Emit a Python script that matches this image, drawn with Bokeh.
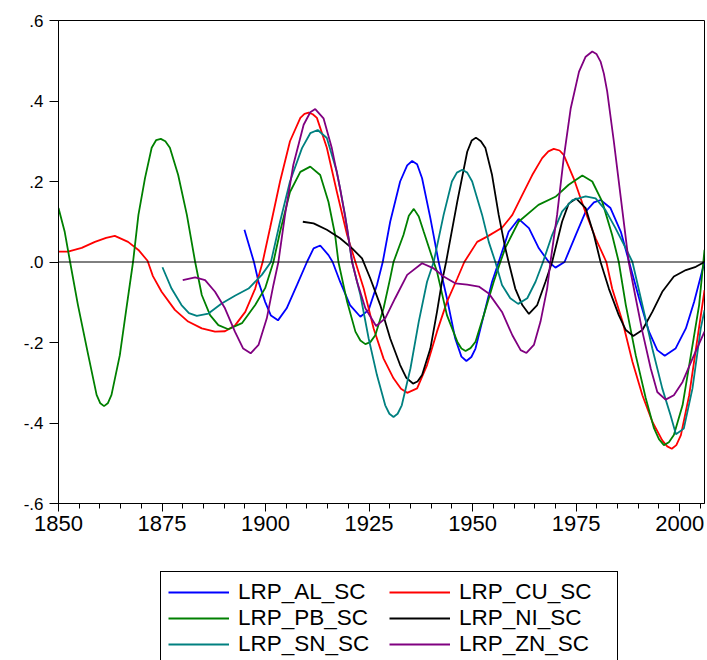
from bokeh.plotting import figure
from bokeh.layouts import column
from bokeh.models import Range1d, FixedTicker, Span, Legend, LegendItem
from bokeh.embed import file_html
from bokeh.resources import INLINE

FONT = "Liberation Sans"

# ---- data ----
al_years = [1894.9, 1897.2, 1898.3, 1899.9, 1901.3, 1903.0, 1905.1, 1907.6, 1910.0, 1911.6, 1913.2,
            1915.2, 1916.2, 1918.0, 1920.4, 1922.9, 1924.9, 1926.9, 1928.3, 1930.1, 1932.5, 1934.2,
            1935.4, 1936.6, 1937.8, 1939.8, 1941.8, 1943.8, 1945.8, 1947.3, 1948.5, 1949.7, 1950.7,
            1952.7, 1954.7, 1956.3, 1958.7, 1961.1, 1963.6, 1966.0, 1968.4, 1970.0, 1972.2, 1974.9,
            1977.3, 1979.3, 1980.9, 1983.3, 1985.8, 1987.8, 1990.2, 1992.6, 1994.6, 1996.4, 1999.0,
            2001.5, 2003.5, 2006.0]
al_vals = [0.080, 0.000, -0.049, -0.099, -0.133, -0.145, -0.115, -0.057, 0.000, 0.034, 0.041,
           0.017, 0.000, -0.049, -0.107, -0.136, -0.119, -0.057, 0.000, 0.100, 0.200, 0.240,
           0.251, 0.243, 0.208, 0.109, 0.000, -0.090, -0.190, -0.235, -0.246, -0.236, -0.215,
           -0.132, -0.049, 0.000, 0.075, 0.107, 0.084, 0.034, 0.000, -0.014, 0.000, 0.067,
           0.125, 0.148, 0.154, 0.134, 0.075, 0.000, -0.090, -0.173, -0.219, -0.233, -0.215,
           -0.165, -0.099, 0.000]

cu_years = [1850.0, 1852.3, 1855.6, 1858.8, 1861.5, 1863.6, 1866.8, 1869.3, 1871.5, 1872.8,
            1874.9, 1878.1, 1881.3, 1884.6, 1887.8, 1890.2, 1892.6, 1895.1, 1897.5, 1899.3,
            1901.1, 1903.5, 1905.9, 1908.4, 1909.4, 1910.4, 1911.4, 1912.4, 1914.8, 1917.2,
            1919.7, 1921.7, 1923.7, 1926.1, 1928.5, 1930.9, 1932.7, 1934.2, 1936.6, 1939.0,
            1941.4, 1943.8, 1946.3, 1948.0, 1951.1, 1953.5, 1957.1, 1959.6, 1962.0, 1964.4,
            1966.8, 1968.3, 1969.6, 1971.0, 1972.0, 1974.4, 1976.9, 1979.7, 1982.3, 1983.7,
            1986.2, 1988.6, 1991.0, 1993.4, 1995.8, 1997.0, 1998.1, 1999.2, 2000.3, 2002.3,
            2004.3, 2006.0]
cu_vals = [0.026, 0.026, 0.035, 0.050, 0.060, 0.065, 0.050, 0.030, 0.003, -0.035,
           -0.074, -0.119, -0.148, -0.165, -0.173, -0.172, -0.158, -0.124, -0.066, 0.000,
           0.085, 0.200, 0.300, 0.358, 0.368, 0.371, 0.367, 0.358, 0.284, 0.175,
           0.067, 0.000, -0.066, -0.165, -0.240, -0.289, -0.315, -0.325, -0.314, -0.256,
           -0.173, -0.099, -0.041, 0.000, 0.050, 0.063, 0.085, 0.117, 0.167, 0.216,
           0.258, 0.275, 0.281, 0.277, 0.266, 0.208, 0.134, 0.059, 0.000, -0.066,
           -0.148, -0.248, -0.331, -0.397, -0.443, -0.458, -0.464, -0.455, -0.430, -0.331,
           -0.190, -0.070]

pb_years = [1850.0, 1851.5, 1852.8, 1854.7, 1857.2, 1859.2, 1860.1, 1861.0, 1861.9, 1862.8,
            1864.8, 1866.4, 1868.0, 1869.3, 1870.9, 1872.5, 1873.6, 1874.7, 1875.8, 1876.9,
            1878.9, 1881.0, 1883.0, 1884.6, 1886.6, 1888.6, 1891.0, 1894.3, 1897.5, 1899.9,
            1901.9, 1903.5, 1905.9, 1908.4, 1910.8, 1913.2, 1915.2, 1916.8, 1917.6, 1919.7,
            1921.7, 1922.9, 1924.1, 1925.3, 1926.5, 1928.5, 1930.1, 1930.9, 1933.3, 1934.6,
            1935.8, 1937.0, 1938.2, 1940.6, 1941.4, 1943.8, 1946.3, 1947.3, 1948.3, 1949.5,
            1950.7, 1952.7, 1955.1, 1956.7, 1957.9, 1961.1, 1965.9, 1970.0, 1973.2, 1976.5,
            1978.9, 1981.3, 1983.7, 1985.3, 1987.0, 1989.4, 1991.8, 1993.8, 1995.0, 1996.2,
            1997.4, 1998.6, 2000.7, 2002.7, 2004.7, 2006.0]
pb_vals = [0.134, 0.075, 0.000, -0.107, -0.232, -0.330, -0.351, -0.358, -0.351, -0.330,
           -0.232, -0.115, 0.000, 0.117, 0.209, 0.284, 0.303, 0.306, 0.300, 0.284,
           0.216, 0.117, 0.000, -0.082, -0.132, -0.157, -0.167, -0.152, -0.107, -0.065,
           0.000, 0.075, 0.174, 0.224, 0.237, 0.216, 0.149, 0.067, 0.000, -0.099,
           -0.173, -0.195, -0.204, -0.199, -0.182, -0.115, -0.040, 0.000, 0.067, 0.115,
           0.132, 0.113, 0.075, 0.000, -0.024, -0.132, -0.198, -0.215, -0.221, -0.214,
           -0.198, -0.132, -0.049, 0.000, 0.035, 0.100, 0.142, 0.162, 0.192, 0.215,
           0.200, 0.150, 0.067, 0.000, -0.107, -0.232, -0.338, -0.413, -0.440, -0.455,
           -0.448, -0.430, -0.356, -0.232, -0.107, 0.030]

ni_years = [1909.0, 1911.6, 1914.8, 1918.0, 1920.9, 1923.3, 1925.3, 1927.7, 1930.1, 1932.5,
            1934.0, 1935.6, 1936.7, 1937.8, 1939.8, 1941.4, 1942.6, 1943.6, 1946.3, 1948.7,
            1949.8, 1950.8, 1952.0, 1953.1, 1954.7, 1956.3, 1957.9, 1958.7, 1960.3, 1962.0,
            1963.6, 1965.6, 1967.6, 1969.2, 1971.6, 1973.2, 1975.0, 1977.3, 1979.3, 1980.9,
            1982.9, 1985.3, 1987.0, 1988.8, 1991.0, 1993.4, 1995.8, 1998.6, 2001.5, 2003.9,
            2006.0]
ni_vals = [0.100, 0.096, 0.080, 0.059, 0.034, 0.009, -0.041, -0.107, -0.190, -0.256,
           -0.288, -0.302, -0.297, -0.281, -0.215, -0.124, -0.049, 0.000, 0.150, 0.274,
           0.302, 0.309, 0.300, 0.283, 0.216, 0.117, 0.034, 0.000, -0.066, -0.107,
           -0.129, -0.107, -0.049, 0.000, 0.100, 0.145, 0.158, 0.134, 0.067, 0.000,
           -0.066, -0.132, -0.169, -0.184, -0.169, -0.124, -0.074, -0.036, -0.020, -0.012,
           0.000]

sn_years = [1875.1, 1877.3, 1879.7, 1881.5, 1883.4, 1886.2, 1889.4, 1892.6, 1895.9, 1899.1,
            1901.3, 1903.5, 1905.9, 1908.8, 1910.8, 1912.6, 1914.8, 1917.2, 1919.2, 1920.9,
            1922.9, 1924.9, 1926.9, 1928.9, 1929.9, 1930.9, 1931.9, 1932.9, 1935.0, 1937.0,
            1939.0, 1940.6, 1943.0, 1945.0, 1946.2, 1947.5, 1948.7, 1949.9, 1952.3, 1953.9,
            1955.5, 1957.1, 1959.1, 1961.0, 1963.2, 1965.2, 1967.0, 1969.2, 1971.6, 1974.1,
            1977.3, 1979.7, 1982.1, 1984.5, 1987.0, 1988.6, 1991.0, 1993.4, 1995.8, 1997.8,
            1999.1, 2001.0, 2003.1, 2005.1, 2006.0]
sn_vals = [-0.013, -0.066, -0.107, -0.127, -0.134, -0.128, -0.103, -0.084, -0.066, -0.032,
           0.000, 0.100, 0.200, 0.283, 0.320, 0.328, 0.308, 0.225, 0.117, 0.000,
           -0.082, -0.190, -0.281, -0.356, -0.377, -0.385, -0.377, -0.356, -0.264, -0.148,
           -0.049, 0.000, 0.117, 0.200, 0.222, 0.229, 0.222, 0.200, 0.117, 0.050,
           0.000, -0.057, -0.090, -0.104, -0.090, -0.049, 0.000, 0.067, 0.125, 0.154,
           0.163, 0.158, 0.129, 0.084, 0.034, 0.000, -0.107, -0.215, -0.314, -0.381,
           -0.428, -0.414, -0.314, -0.165, -0.120]

zn_years = [1880.0, 1883.0, 1885.4, 1887.8, 1890.2, 1892.6, 1894.6, 1896.4, 1898.3, 1900.3,
            1901.9, 1903.1, 1904.7, 1906.7, 1909.2, 1910.8, 1912.0, 1914.0, 1916.0, 1918.0,
            1919.7, 1920.9, 1922.1, 1924.1, 1926.7, 1928.9, 1931.3, 1934.2, 1937.8, 1940.6,
            1943.0, 1945.8, 1948.7, 1951.5, 1953.9, 1957.1, 1959.6, 1961.6, 1963.0, 1964.8,
            1966.4, 1968.0, 1968.8, 1970.4, 1972.0, 1973.7, 1975.7, 1977.3, 1978.9, 1979.9,
            1980.9, 1981.7, 1982.5, 1984.1, 1985.7, 1986.9, 1987.7, 1989.4, 1991.0, 1993.0,
            1994.6, 1996.6, 1998.6, 2000.7, 2003.1, 2006.0]
zn_vals = [-0.045, -0.038, -0.045, -0.074, -0.115, -0.173, -0.215, -0.227, -0.206, -0.140,
           -0.057, 0.000, 0.117, 0.241, 0.341, 0.372, 0.380, 0.357, 0.283, 0.183,
           0.084, 0.000, -0.049, -0.115, -0.159, -0.140, -0.090, -0.032, -0.003, -0.016,
           -0.036, -0.053, -0.056, -0.061, -0.078, -0.124, -0.182, -0.219, -0.226, -0.206,
           -0.148, -0.066, 0.000, 0.117, 0.258, 0.382, 0.473, 0.510, 0.523, 0.517,
           0.498, 0.468, 0.424, 0.300, 0.167, 0.067, 0.000, -0.090, -0.173, -0.264,
           -0.323, -0.342, -0.331, -0.298, -0.240, -0.173]

series_names = ["LRP_AL_SC", "LRP_CU_SC", "LRP_PB_SC", "LRP_NI_SC", "LRP_SN_SC", "LRP_ZN_SC"]
series_colors = ["#0000FF", "#FF0000", "#008000", "#000000", "#008080", "#800080"]

x_ticks = [1850, 1875, 1900, 1925, 1950, 1975, 2000]
x_tick_labels = ["1850", "1875", "1900", "1925", "1950", "1975", "2000"]
x_minor_ticks = [1850 + 5 * i for i in range(32)]
y_ticks = [-0.6, -0.4, -0.2, 0.0, 0.2, 0.4, 0.6]
y_tick_labels = ["-.6", "-.4", "-.2", ".0", ".2", ".4", ".6"]

data = [(al_years, al_vals), (cu_years, cu_vals), (pb_years, pb_vals),
        (ni_years, ni_vals), (sn_years, sn_vals), (zn_years, zn_vals)]

# ---- main chart ----
p = figure(width=707, height=560, output_backend="svg", toolbar_location=None,
           x_range=Range1d(1850, 2006), y_range=Range1d(-0.6, 0.6),
           min_border_left=58, min_border_right=3, min_border_top=20, min_border_bottom=57)
p.xgrid.visible = False
p.ygrid.visible = False
p.outline_line_color = "black"
p.outline_line_width = 1
p.background_fill_color = "white"
p.border_fill_color = "white"

p.add_layout(Span(location=0, dimension="width", line_color="black", line_width=1))

for (xs, ys), c in zip(data, series_colors):
    p.line(xs, ys, line_color=c, line_width=1.8)

xa = p.xaxis[0]
xa.ticker = FixedTicker(ticks=x_ticks, minor_ticks=x_minor_ticks)
xa.major_label_overrides = {t: l for t, l in zip(x_ticks, x_tick_labels)}
xa.axis_line_color = "black"
xa.major_tick_line_color = "black"
xa.minor_tick_line_color = "black"
xa.major_tick_out = 8
xa.major_tick_in = 0
xa.minor_tick_out = 5
xa.minor_tick_in = 0
xa.major_label_text_font = FONT
xa.major_label_text_font_size = "22px"
xa.major_label_text_color = "black"
xa.major_label_standoff = 4

ya = p.yaxis[0]
ya.ticker = FixedTicker(ticks=y_ticks, minor_ticks=[])
ya.major_label_overrides = {t: l for t, l in zip(y_ticks, y_tick_labels)}
ya.axis_line_color = "black"
ya.major_tick_line_color = "black"
ya.major_tick_out = 9
ya.major_tick_in = 0
ya.minor_tick_line_color = None
ya.major_label_text_font = FONT
ya.major_label_text_font_size = "17px"
ya.major_label_text_color = "black"
ya.major_label_standoff = 6

# ---- legend panel below the chart (its series lie outside its own view) ----
q = figure(width=707, height=100, output_backend="svg", toolbar_location=None,
           x_range=Range1d(0, 1), y_range=Range1d(0, 1), x_axis_type=None, y_axis_type=None,
           min_border_left=0, min_border_right=0, min_border_top=0, min_border_bottom=0)
q.xgrid.visible = False
q.ygrid.visible = False
q.outline_line_color = None
q.background_fill_color = "white"
q.border_fill_color = "white"

keys = {}
for name, (xs, ys), c in zip(series_names, data, series_colors):
    keys[name] = q.line(xs, ys, line_color=c, line_width=1.8)

# column-major order: AL, PB, SN | CU, NI, ZN
order = ["LRP_AL_SC", "LRP_PB_SC", "LRP_SN_SC", "LRP_CU_SC", "LRP_NI_SC", "LRP_ZN_SC"]
items = [LegendItem(label=n, renderers=[keys[n]]) for n in order]
legend = Legend(items=items, ncols=2, orientation="vertical", location=(102, -5),
                label_text_font=FONT, label_text_font_size="22.5px", label_text_color="black",
                glyph_width=61, glyph_height=26, label_height=26, label_width=151,
                label_standoff=9, spacing=0, padding=7, margin=0,
                border_line_color="black", border_line_width=1, border_line_alpha=1,
                background_fill_color="white", background_fill_alpha=1)
q.add_layout(legend, "center")

layout = column(p, q, spacing=0)
open("out.html", "w").write(file_html(layout, INLINE))
